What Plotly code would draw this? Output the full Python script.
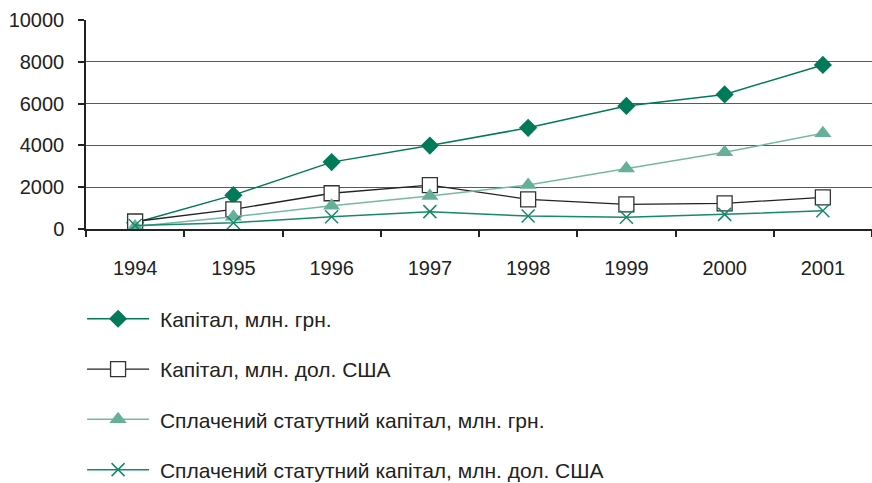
import plotly.graph_objects as go

years = ["1994", "1995", "1996", "1997", "1998", "1999", "2000", "2001"]
capital_uah = [300, 1620, 3200, 3990, 4840, 5890, 6440, 7850]
capital_usd = [360, 940, 1710, 2100, 1420, 1180, 1230, 1510]
paid_uah = [120, 590, 1110, 1580, 2100, 2900, 3670, 4580]
paid_usd = [170, 300, 590, 830, 620, 560, 700, 870]

names = [
    "Капітал, млн. грн.",
    "Капітал, млн. дол. США",
    "Сплачений статутний капітал, млн. грн.",
    "Сплачений статутний капітал, млн. дол. США",
]

font = "Liberation Sans, Arial, sans-serif"
pad = "\u00a0"

fig = go.Figure()
fig.add_trace(go.Scatter(
    x=years, y=capital_uah, name=pad + names[0], mode="lines+markers",
    line=dict(color="#007A58", width=1.5),
    marker=dict(symbol="diamond", size=14, color="#007A58"),
    legendgroup="a",
))
fig.add_trace(go.Scatter(
    x=years, y=capital_usd, name=pad + names[1], mode="lines+markers",
    line=dict(color="#222222", width=1.3),
    marker=dict(symbol="square", size=15, color="white",
                line=dict(color="#333333", width=1.3)),
    legendgroup="b",
))
fig.add_trace(go.Scatter(
    x=years, y=paid_uah, name=pad + names[2], mode="lines+markers",
    line=dict(color="#74B9A4", width=1.5),
    marker=dict(symbol="triangle-up", size=15, color="#66B09A"),
    legendgroup="c",
))
fig.add_trace(go.Scatter(
    x=years, y=paid_usd, name=pad + names[3], mode="lines+markers",
    line=dict(color="#16896A", width=1.5),
    marker=dict(symbol="x-thin", size=13,
                line=dict(color="#16896A", width=1.5)),
    legendgroup="d",
))

fig.update_layout(
    width=872, height=483,
    margin=dict(l=86, r=0, t=20, b=254, autoexpand=False),
    paper_bgcolor="white", plot_bgcolor="white",
    font=dict(family=font, size=20, color="#222222"),
    showlegend=True,
    legend=dict(
        x=-0.005, xanchor="left", y=-0.333, yanchor="top",
        font=dict(family=font, size=21, color="#222222"),
        tracegroupgap=20, itemwidth=62,
        bgcolor="rgba(0,0,0,0)",
    ),
    xaxis=dict(
        type="category", range=[-0.5, 7.5],
        showline=True, linecolor="#222222", linewidth=1.5,
        ticks="outside", tickson="boundaries", ticklen=6,
        tickcolor="#222222", tickwidth=1.5,
        showgrid=False, ticklabelstandoff=20,
        tickfont=dict(size=20),
    ),
    yaxis=dict(
        range=[0, 10000], tickvals=[0, 2000, 4000, 6000, 8000, 10000],
        tickformat="d",
        showline=True, linecolor="#222222", linewidth=1.5,
        ticks="outside", ticklen=6, tickcolor="#222222", tickwidth=1.5,
        showgrid=True, gridcolor="#5a5a5a", gridwidth=1.2,
        zeroline=False, ticklabelstandoff=10,
        tickfont=dict(size=20),
    ),
)

fig.write_html("out.html")
